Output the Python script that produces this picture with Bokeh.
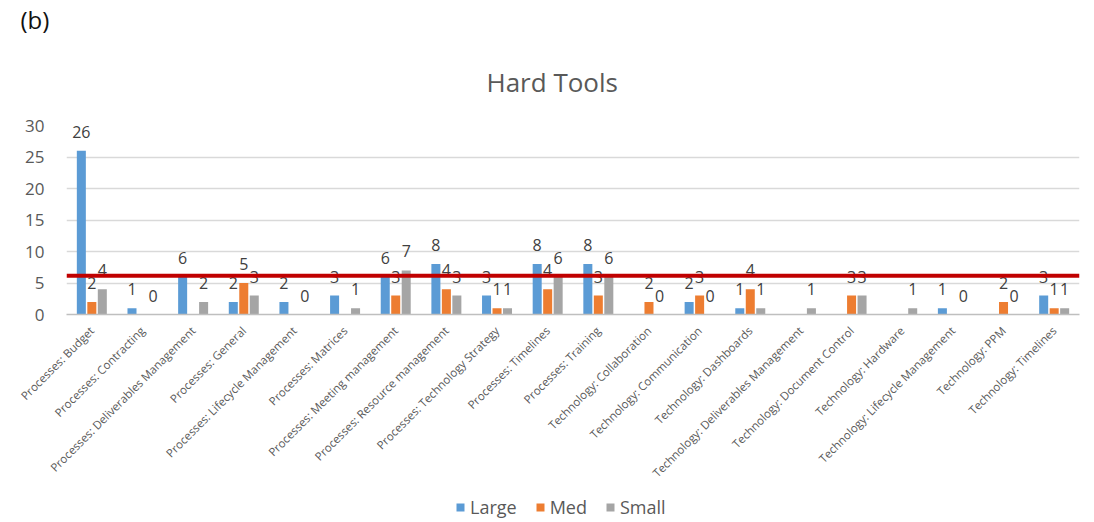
from bokeh.plotting import figure
from bokeh.layouts import column
from bokeh.models import (ColumnDataSource, FactorRange, Range1d, Span, Title,
                          Legend, LegendItem, FixedTicker)
from bokeh.transform import dodge
from bokeh.core.properties import value
from bokeh.embed import file_html
from bokeh.resources import INLINE

# Tool counts per category and company size (None = no entry)
categories = [
    "Processes: Budget", "Processes: Contracting", "Processes: Deliverables Management",
    "Processes: General", "Processes: Lifecycle Management", "Processes: Matrices",
    "Processes: Meeting management", "Processes: Resource management",
    "Processes: Technology Strategy", "Processes: Timelines", "Processes: Training",
    "Technology: Collaboration", "Technology: Communication", "Technology: Dashboards",
    "Technology: Deliverables Management", "Technology: Document Control",
    "Technology: Hardware", "Technology: Lifecycle Management", "Technology: PPM",
    "Technology: Timelines",
]
large = [26, 1, 6, 2, 2, 3, 6, 8, 3, 8, 8, None, 2, 1, None, None, None, 1, None, 3]
med = [2, None, None, 5, None, None, 3, 4, 1, 4, 3, 2, 3, 4, None, 3, None, None, 2, 1]
small = [4, 0, 2, 3, 0, 1, 7, 3, 1, 6, 6, 0, 0, 1, 1, 3, 1, 0, 0, 1]
y_ticks = [0, 5, 10, 15, 20, 25, 30]
reference_level = 6.15

series = [("Large", large, "#5B9BD5"), ("Med", med, "#ED7D31"), ("Small", small, "#A5A5A5")]
offsets = [-0.207, 0.0, 0.207]

FONT = "Open Sans"
TEXT_GREY = "#595959"

p = figure(
    width=1094, height=490,
    x_range=FactorRange(*categories, range_padding=0),
    y_range=Range1d(0, 30),
    output_backend="svg", toolbar_location=None,
    min_border_left=66, min_border_right=15, min_border_top=125, min_border_bottom=176,
)
p.title = None
p.outline_line_color = None
p.background_fill_color = "white"
p.border_fill_color = "white"

# Separate strip underneath that carries the series key
key = figure(
    width=1094, height=32,
    x_range=FactorRange(*categories, range_padding=0), y_range=Range1d(0, 1),
    x_axis_type=None, y_axis_type=None,
    output_backend="svg", toolbar_location=None,
    min_border_left=0, min_border_right=0, min_border_top=0, min_border_bottom=0,
)
key.title = None
key.outline_line_color = None
key.xgrid.grid_line_color = None
key.ygrid.grid_line_color = None

items = []
for (name, vals, color), off in zip(series, offsets):
    src = ColumnDataSource(dict(
        cat=[c for c, v in zip(categories, vals) if v is not None],
        val=[v for v in vals if v is not None],
    ))
    src.data["lbl"] = [str(v) for v in src.data["val"]]
    p.vbar(x=dodge("cat", off, range=p.x_range), top="val", bottom=0, width=0.178,
           source=src, fill_color=color, line_color=None)
    p.text(x=dodge("cat", off, range=p.x_range), y="val", text="lbl", source=src,
           text_font=value(FONT), text_font_size="16px", text_color="#404040",
           text_align="center", text_baseline="bottom", y_offset=-13)
    # square swatch for the key (the strip itself shows no data marks)
    kr = key.scatter(x=dodge("cat", off, range=key.x_range), y="val", marker="square",
                     size=8, source=src, fill_color=color, line_color=None,
                     visible=False)
    items.append(LegendItem(label=name, renderers=[kr]))

# Horizontal reference line
p.add_layout(Span(location=reference_level, dimension="width",
                  line_color="#C00000", line_width=4))

# Axes and grid
p.yaxis.ticker = FixedTicker(ticks=y_ticks)
p.yaxis.axis_line_color = None
p.yaxis.major_tick_line_color = None
p.yaxis.minor_tick_line_color = None
p.yaxis.major_label_text_font = FONT
p.yaxis.major_label_text_font_size = "17px"
p.yaxis.major_label_text_color = TEXT_GREY
p.yaxis.major_label_standoff = 16

p.xaxis.axis_line_color = "#BFBFBF"
p.xaxis.axis_line_width = 1.5
p.xaxis.major_tick_line_color = None
p.xaxis.minor_tick_line_color = None
p.xaxis.major_label_orientation = 0.785398
p.xaxis.major_label_text_font = FONT
p.xaxis.major_label_text_font_size = "11.5px"
p.xaxis.major_label_text_color = TEXT_GREY
p.xaxis.major_label_standoff = 8

p.xgrid.grid_line_color = None
p.ygrid.grid_line_color = "#D9D9D9"
p.ygrid.grid_line_width = 1.5

# Chart title, then the panel tag further out
p.add_layout(Title(text="Hard Tools", align="left", offset=420, standoff=52,
                   text_font=FONT, text_font_size="26px", text_color=TEXT_GREY,
                   text_font_style="normal"), "above")
p.add_layout(Title(text="(b)", align="left", offset=-46, standoff=0,
                   text_font=FONT, text_font_size="24px", text_color="#111111",
                   text_font_style="normal"), "above")

legend = Legend(items=items, orientation="horizontal", location=(384, 3),
                label_text_font=FONT, label_text_font_size="18px",
                label_text_color=TEXT_GREY, glyph_width=20, glyph_height=20,
                spacing=13, label_standoff=0, border_line_color=None,
                background_fill_alpha=0, inactive_fill_alpha=0,
                padding=0, margin=0)
key.add_layout(legend, "center")

open("out.html", "w").write(file_html(column(p, key, spacing=0), INLINE))
